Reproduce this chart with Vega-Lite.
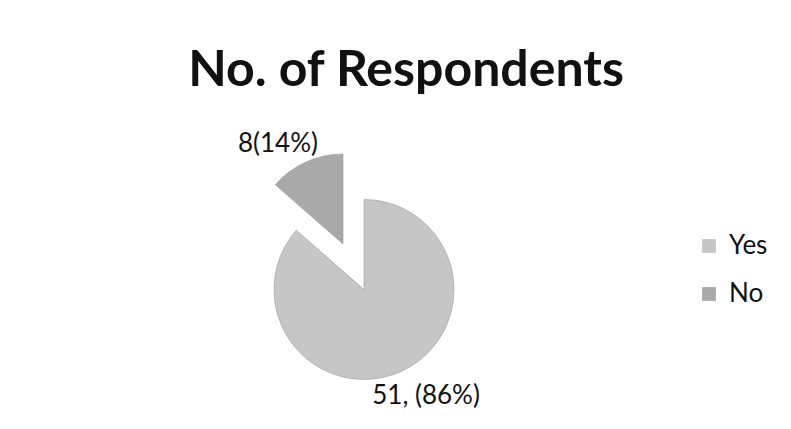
{
  "$schema": "https://vega.github.io/schema/vega-lite/v6.json",
  "width": 728,
  "height": 279,
  "autosize": {"type": "none"},
  "padding": {"left": 0, "top": 150, "right": 63, "bottom": 0},
  "background": "white",
  "view": {"stroke": null},
  "title": {
    "text": "No. of Respondents",
    "font": "Lato",
    "fontSize": 50,
    "fontWeight": "bold",
    "color": "#111111",
    "anchor": "middle",
    "dx": 42,
    "dy": -15,
    "offset": 20
  },
  "data": {
    "values": [
      {"answer": "Yes", "count": 51, "label": "51, (86%)"},
      {"answer": "No", "count": 8, "label": "8(14%)"}
    ]
  },
  "encoding": {
    "theta": {"field": "count", "type": "quantitative", "stack": true},
    "order": {"field": "answer", "sort": "descending"},
    "color": {
      "field": "answer",
      "type": "nominal",
      "scale": {"domain": ["Yes", "No"], "range": ["#c6c6c6", "#a9a9a9"]},
      "legend": {
        "title": null,
        "orient": "none",
        "legendX": 696,
        "legendY": 83,
        "padding": 0,
        "symbolType": "square",
        "symbolSize": 190,
        "symbolStrokeWidth": 0,
        "labelFont": "Lato",
        "labelFontSize": 26,
        "labelColor": "#111111",
        "labelOffset": 7,
        "rowPadding": 22
      }
    }
  },
  "layer": [
    {
      "mark": {
        "type": "arc",
        "outerRadius": 90,
        "stroke": "#9a9a9a",
        "strokeWidth": 0.6,
        "xOffset": {"expr": "datum.answer === 'No' ? -21 : 0"},
        "yOffset": {"expr": "datum.answer === 'No' ? -45.5 : 0"}
      }
    },
    {
      "mark": {
        "type": "text",
        "radius": 126,
        "font": "Lato",
        "fontSize": 26,
        "align": "center",
        "baseline": "middle",
        "dx": {"expr": "datum.answer === 'No' ? -34 : 10"},
        "dy": {"expr": "datum.answer === 'No' ? -31 : -8"}
      },
      "encoding": {
        "text": {"field": "label"},
        "color": {"value": "#111111"}
      }
    }
  ]
}
